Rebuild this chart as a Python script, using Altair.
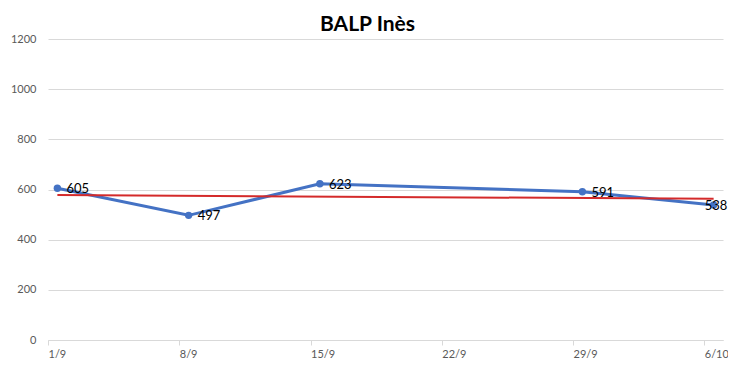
import altair as alt
import pandas as pd

# ---- data ----
dates = ["2020-09-01T12:00:00", "2020-09-08T12:00:00", "2020-09-15T12:00:00",
         "2020-09-29T12:00:00", "2020-10-06T12:00:00"]
values = [605, 497, 623, 591, 538]
x_tick_days = [(9, 1), (9, 8), (9, 15), (9, 22), (9, 29), (10, 6)]
y_ticks = [0, 200, 400, 600, 800, 1000, 1200]
title_text = "BALP Inès"

df = pd.DataFrame({"date": dates, "value": values, "idx": list(range(len(values)))})
last_idx = len(values) - 1

FONT = "Lato"
BLUE = "#4472C4"
RED = "#D42A2A"

x_enc = alt.X(
    "date:T",
    scale=alt.Scale(domain=[alt.DateTime(year=2020, month=9, date=1),
                            alt.DateTime(year=2020, month=10, date=7)]),
    axis=alt.Axis(
        values=[alt.DateTime(year=2020, month=m, date=d) for m, d in x_tick_days],
        format="%-d/%-m", title=None, grid=False,
        domainColor="#D9D9D9", tickColor="#D9D9D9", tickSize=5,
        labelAlign="left", labelPadding=3, labelColor="#595959",
        labelFontSize=11, labelFont=FONT,
    ),
)
y_enc = alt.Y(
    "value:Q",
    scale=alt.Scale(domain=[0, 1200]),
    axis=alt.Axis(
        values=y_ticks, format="d", title=None, domain=False, ticks=False,
        gridColor="#D9D9D9", labelColor="#595959", labelFontSize=11,
        labelFont=FONT, labelPadding=12,
    ),
)

base = alt.Chart(df)

line = base.mark_line(
    color=BLUE, strokeWidth=3,
    point=alt.OverlayMarkDef(filled=True, size=55, color=BLUE),
).encode(x=x_enc, y=y_enc)

trend = base.transform_regression("date", "value").mark_line(
    color=RED, strokeWidth=2
).encode(x="date:T", y="value:Q")

labels = base.transform_filter(
    alt.datum.idx != last_idx
).mark_text(
    align="left", baseline="middle", dx=9, dy=1, fontSize=13, font=FONT, color="#000000"
).encode(x="date:T", y="value:Q", text="value:Q")

last_label = base.transform_filter(
    alt.datum.idx == last_idx
).mark_text(
    align="left", baseline="middle", dx=-9, dy=1, fontSize=13, font=FONT, color="#000000"
).encode(x="date:T", y="value:Q", text="value:Q")

chart = alt.layer(line, trend, labels, last_label).properties(
    width=675,
    height=301,
    title=alt.TitleParams(
        text=title_text, font=FONT, fontSize=21, fontWeight="bold",
        color="#000000", anchor="middle", dx=-18, dy=6, offset=4,
    ),
    autosize=alt.AutoSizeParams(type="none"),
    padding={"left": 40, "top": 31, "right": 5, "bottom": 18},
).configure_view(stroke=None)

chart.save("out.html", embed_options={"renderer": "svg", "actions": False})
